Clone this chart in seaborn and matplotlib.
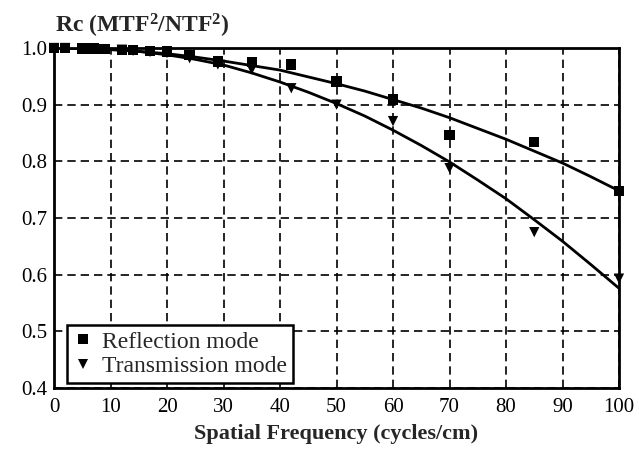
import numpy as np
import pandas as pd
import matplotlib
matplotlib.use("Agg")
import matplotlib.pyplot as plt
import seaborn as sns

# ---- data ----
freq = [0, 2, 5, 6, 7, 8, 9, 12, 14, 17, 20, 24, 29, 35, 42, 50, 60, 70, 85, 100]
reflection = [1.000, 1.000, 0.999, 0.999, 0.999, 0.998, 0.998, 0.997, 0.996, 0.995,
              0.994, 0.988, 0.976, 0.975, 0.971, 0.941, 0.909, 0.847, 0.834, 0.748]
transmission = [1.000, 1.000, 0.999, 0.999, 0.999, 0.998, 0.998, 0.997, 0.995, 0.993,
                0.991, 0.982, 0.971, 0.962, 0.929, 0.900, 0.871, 0.788, 0.675, 0.593]

curve_x = [0, 5, 10, 15, 20, 25, 30, 35, 40, 45, 50, 55, 60, 65, 70, 75, 80, 85, 90, 95, 100]
reflection_fit = [1.000, 0.999, 0.997, 0.994, 0.990, 0.984, 0.977, 0.969, 0.961, 0.949, 0.937,
                  0.924, 0.909, 0.894, 0.877, 0.858, 0.839, 0.818, 0.797, 0.773, 0.748]
transmission_fit = [1.000, 1.000, 0.999, 0.994, 0.988, 0.980, 0.970, 0.956, 0.940, 0.922, 0.902,
                    0.880, 0.855, 0.828, 0.799, 0.767, 0.734, 0.697, 0.659, 0.618, 0.576]

series_names = ["Reflection mode", "Transmission mode"]
x_ticks = [0, 10, 20, 30, 40, 50, 60, 70, 80, 90, 100]
y_ticks = [0.4, 0.5, 0.6, 0.7, 0.8, 0.9, 1.0]
title_text = r"Rc (MTF$^{\mathbf{2}}$/NTF$^{\mathbf{2}}$)"
xlabel_text = "Spatial Frequency (cycles/cm)"

pts = pd.DataFrame({
    "freq": freq * 2,
    "Rc": reflection + transmission,
    "mode": [series_names[0]] * len(freq) + [series_names[1]] * len(freq),
})
fits = pd.DataFrame({
    "freq": curve_x * 2,
    "Rc": reflection_fit + transmission_fit,
    "mode": [series_names[0]] * len(curve_x) + [series_names[1]] * len(curve_x),
})

sns.set_style("white")
plt.rcParams["font.family"] = ["Liberation Serif", "DejaVu Serif"]
plt.rcParams["mathtext.fontset"] = "custom"
plt.rcParams["mathtext.rm"] = "Liberation Serif"
plt.rcParams["mathtext.bf"] = "Liberation Serif:bold"
plt.rcParams["mathtext.default"] = "bf"

fig = plt.figure(figsize=(6.39, 4.51), dpi=100)
ax = fig.add_axes([54 / 639, 1 - 388 / 451, (619 - 54) / 639, (388 - 48) / 451])

sns.lineplot(data=fits, x="freq", y="Rc", units="mode", estimator=None,
             color="black", linewidth=2.0, ax=ax, legend=False, zorder=3)
sns.scatterplot(data=pts, x="freq", y="Rc", style="mode",
                markers={series_names[0]: "s", series_names[1]: "v"},
                color="black", s=55, edgecolor="black", linewidth=0,
                ax=ax, zorder=4, clip_on=False)

ax.set_xlim(0, 100)
ax.set_ylim(0.4, 1.0)
ax.set_xticks(x_ticks)
ax.set_yticks(y_ticks)
ax.set_yticklabels([f"{v:.1f}" for v in y_ticks])
ax.set_xticklabels([str(v) for v in x_ticks])
ax.tick_params(axis="both", direction="in", length=4, width=1.2, colors="black",
               labelsize=15)
ax.tick_params(axis="x", pad=7)
ax.tick_params(axis="y", pad=5)
ax.grid(True, color="black", linestyle=(0, (5, 3)), linewidth=1.2)
ax.set_axisbelow(True)
for sp in ax.spines.values():
    sp.set_color("black")
    sp.set_linewidth(2.0)
    sp.set_visible(True)

ax.set_ylabel("")
ax.set_xlabel(xlabel_text, fontsize=16, fontweight="bold", labelpad=5)
fig.text(55 / 639, 1 - 33 / 451, title_text, fontsize=17, fontweight="bold",
         ha="left", va="baseline")

leg = ax.legend(loc="lower left", bbox_to_anchor=(0.0225, 0.015), fontsize=17,
                frameon=True, fancybox=False, framealpha=1, edgecolor="black",
                markerscale=0.9, handletextpad=0.35, borderpad=0.25,
                labelspacing=0.12, borderaxespad=0.0, handlelength=0.9)
leg.get_frame().set_linewidth(1.8)
leg.set_zorder(10)

fig.savefig("out.png", dpi=100)
